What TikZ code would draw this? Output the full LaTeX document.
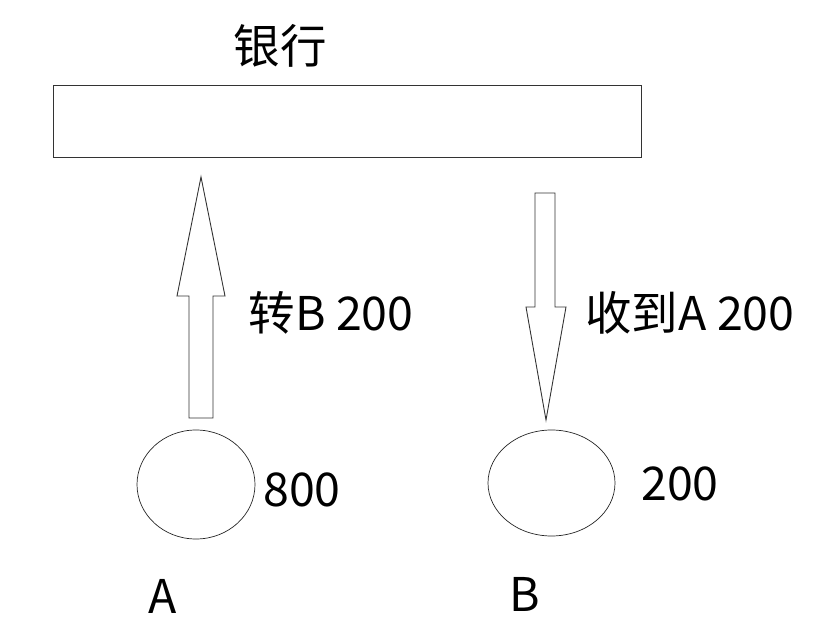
\documentclass[tikz,border=0pt]{standalone}
\usepackage{fontspec}
\newfontfamily\cjk{Noto Sans CJK SC}
\begin{document}
\begin{tikzpicture}[x=1pt,y=-1pt,
  txt/.style={font=\cjk\fontsize{46.5}{50}\selectfont, inner sep=0pt},
  shape line/.style={draw=black!80, line width=0.9pt, line join=miter},
  acct/.style={draw=black!85, line width=0.7pt}]
\useasboundingbox (0,0) rectangle (820,644);
% bank
\node[txt] (banklabel) at (280,46) {银行};
\draw[shape line] (53,85) rectangle (641,157);
% up arrow (A -> bank)
\draw[shape line] (189,418) -- (189,296) -- (177,296) -- (201,177) -- (225,296) -- (213,296) -- (213,418) -- cycle;
\node[txt] (lblA) at (331,313) {转B 200};
% down arrow (bank -> B)
\draw[shape line] (535,193) -- (555,193) -- (555,307) -- (566,307) -- (546,420) -- (526,307) -- (535,307) -- cycle;
\node[txt] (lblB) at (690,313) {收到A 200};
% accounts
\draw[acct] (196,484.5) ellipse [x radius=59, y radius=54.5];
\draw[acct] (551.5,483) ellipse [x radius=63.5, y radius=53];
\node[txt] (balA) at (302,490) {800};
\node[txt] (balB) at (680,484) {200};
\node[txt] (nameA) at (163,596) {A};
\node[txt] (nameB) at (525,594) {B};
\end{tikzpicture}
\end{document}
